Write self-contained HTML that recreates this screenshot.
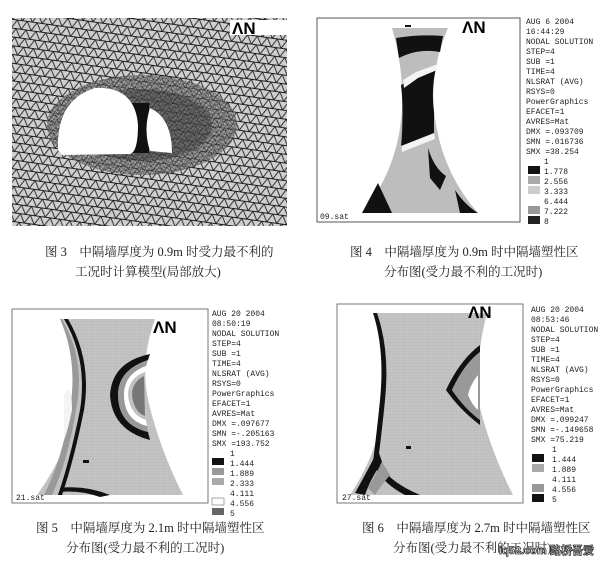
<!DOCTYPE html>
<html><head><meta charset="utf-8"><style>
html,body{margin:0;padding:0;background:#fff;}
svg{display:block;}
.cap{font-family:"Liberation Serif","Noto Serif CJK SC",serif;font-size:12.5px;fill:#222;}
.lg{font-family:"Liberation Mono",monospace;font-size:8px;fill:#222;}
.an{font-family:"Liberation Sans",sans-serif;font-weight:bold;font-size:17px;fill:#000;}
</style></head><body>
<svg width="600" height="562" viewBox="0 0 600 562" xmlns="http://www.w3.org/2000/svg">
<defs>
<pattern id="mesh" width="10" height="8.7" patternUnits="userSpaceOnUse" patternTransform="rotate(8)">
<rect width="10" height="8.7" fill="#cfcfcf"/>
<path d="M0 0H10M0 8.7H10M0 0L5 8.7L10 0M-5 8.7L0 0M5 8.7L10 0" stroke="#1c1c1c" stroke-width="0.9" fill="none"/>
</pattern>
<pattern id="mesh2" width="5" height="4.4" patternUnits="userSpaceOnUse" patternTransform="rotate(-10)">
<rect width="5" height="4.4" fill="#8a8a8a"/>
<path d="M0 0H5M0 4.4H5M0 0L2.5 4.4L5 0" stroke="#111" stroke-width="0.6" fill="none"/>
</pattern>
<pattern id="grid" width="3" height="3" patternUnits="userSpaceOnUse">
<rect width="3" height="3" fill="#c4c4c4"/><path d="M0 0H3M0 0V3" stroke="#b0b0b0" stroke-width="0.5"/>
</pattern>
</defs>

<!-- Fig 3 -->
<rect x="12" y="18" width="275" height="208" fill="url(#mesh)"/>
<ellipse cx="142" cy="125" rx="95" ry="50" fill="url(#mesh2)" opacity="0.7"/>
<ellipse cx="142" cy="125" rx="70" ry="36" fill="#333" opacity="0.45"/>
<rect x="131" y="103" width="18" height="50" fill="#111"/>
<path d="M58 150 Q56 100 95 88 Q135 86 138 125 Q138 152 130 154 L62 155 Z" fill="#fff"/>
<path d="M150 108 Q172 118 172 153 L150 151 Q143 130 150 108 Z" fill="#fff"/>
<rect x="230" y="20" width="57" height="15" fill="#fff"/>
<text x="232" y="34" class="an">ΛN</text>
<text x="45" y="256" class="cap">图 3　中隔墙厚度为 0.9m 时受力最不利的</text>
<text x="75" y="276" class="cap">工况时计算模型(局部放大)</text>

<!-- Fig 4 -->
<rect x="317" y="18" width="203" height="204" fill="#fff" stroke="#555" stroke-width="1"/>
<path d="M392 28 L448 28 Q430 70 434 110 Q440 170 478 213 L362 213 Q398 170 402 110 Q404 70 392 28 Z" fill="#bdbdbd"/>
<path d="M396 38 Q420 34 443 36 L440 52 Q418 48 399 58 Z" fill="#111"/>
<path d="M401 85 L412 80 L424 72 L436 68 Q431 90 434 112 L434 135 L401 148 Q404 110 401 85 Z" fill="#111"/>
<path d="M403 80 L416 72 L438 64 L437 70 L418 78 L404 88 Z" fill="#f4f4f4"/>
<path d="M401 146 L434 133 L435 139 L402 152 Z" fill="#f4f4f4"/>
<path d="M428 148 Q434 168 446 176 L440 190 L430 178 Z" fill="#111"/>
<path d="M362 213 L378 183 L392 213 Z" fill="#111"/>
<path d="M455 190 Q465 205 478 213 L460 213 Z" fill="#111"/>
<rect x="405" y="25" width="6" height="2" fill="#111"/>
<text x="462" y="33" class="an">ΛN</text>
<text x="320" y="219" class="lg">09.sat</text>
<g class="lg">
<text x="526" y="24">AUG  6 2004</text><text x="526" y="34">16:44:29</text><text x="526" y="44">NODAL SOLUTION</text>
<text x="526" y="54">STEP=4</text><text x="526" y="64">SUB =1</text><text x="526" y="74">TIME=4</text>
<text x="526" y="84">NLSRAT    (AVG)</text><text x="526" y="94">RSYS=0</text><text x="526" y="104">PowerGraphics</text>
<text x="526" y="114">EFACET=1</text><text x="526" y="124">AVRES=Mat</text><text x="526" y="134">DMX =.093709</text>
<text x="526" y="144">SMN =.016736</text><text x="526" y="154">SMX =38.254</text>
<text x="544" y="164">1</text><text x="544" y="174">1.778</text><text x="544" y="184">2.556</text>
<text x="544" y="194">3.333</text><text x="544" y="204">6.444</text><text x="544" y="214">7.222</text><text x="544" y="224">8</text>
</g>
<rect x="528" y="166" width="12" height="8" fill="#111"/><rect x="528" y="176" width="12" height="8" fill="#aaa"/>
<rect x="528" y="186" width="12" height="8" fill="#ccc"/><rect x="528" y="206" width="12" height="8" fill="#999"/>
<rect x="528" y="216" width="12" height="8" fill="#222"/>
<text x="350" y="256" class="cap">图 4　中隔墙厚度为 0.9m 时中隔墙塑性区</text>
<text x="384" y="276" class="cap">分布图(受力最不利的工况时)</text>

<!-- Fig 5 -->
<rect x="12" y="309" width="196" height="194" fill="#fff" stroke="#777" stroke-width="1"/>
<path d="M62 319 L155 319 Q140 360 148 400 Q160 450 183 495 L37 495 Q70 450 76 400 Q82 350 62 319 Z" fill="url(#grid)"/>
<path d="M62 319 Q86 360 76 410 Q68 460 52 495 L44 495 Q62 460 70 410 Q78 360 60 319 Z" fill="#999"/>
<path d="M68 319 Q92 360 84 410 Q74 460 62 495 L58 495 Q70 460 80 410 Q88 360 64 319 Z" fill="#111"/>
<path d="M64 395 Q72 380 72 410 Q68 430 64 440 Z" fill="#f4f4f4"/>
<path d="M148 360 Q118 370 118 395 Q120 425 148 432 L150 440 Q112 430 110 395 Q112 362 150 354 Z" fill="#111"/>
<path d="M146 366 Q124 374 124 395 Q126 420 147 426 L148 432 Q118 425 118 395 Q118 370 148 360 Z" fill="#999"/>
<path d="M145 372 Q128 378 128 395 Q130 415 146 420 L147 426 Q124 420 124 395 Q124 374 146 366 Z" fill="#fff"/>
<path d="M144 376 Q132 382 132 395 Q134 412 145 416 Z" fill="#777"/>
<path d="M60 488 Q85 485 110 495 L100 497 Q80 490 60 492 Z" fill="#111"/>
<rect x="83" y="460" width="6" height="3" fill="#111"/>
<text x="153" y="333" class="an">ΛN</text>
<text x="16" y="500" class="lg">21.sat</text>
<g class="lg" fill="#444">
<text x="212" y="316">AUG 20 2004</text><text x="212" y="326">08:50:19</text><text x="212" y="336">NODAL SOLUTION</text>
<text x="212" y="346">STEP=4</text><text x="212" y="356">SUB =1</text><text x="212" y="366">TIME=4</text>
<text x="212" y="376">NLSRAT    (AVG)</text><text x="212" y="386">RSYS=0</text><text x="212" y="396">PowerGraphics</text>
<text x="212" y="406">EFACET=1</text><text x="212" y="416">AVRES=Mat</text><text x="212" y="426">DMX =.097677</text>
<text x="212" y="436">SMN =-.205163</text><text x="212" y="446">SMX =193.752</text>
<text x="230" y="456">1</text><text x="230" y="466">1.444</text><text x="230" y="476">1.889</text>
<text x="230" y="486">2.333</text><text x="230" y="496">4.111</text><text x="230" y="506">4.556</text><text x="230" y="516">5</text>
</g>
<rect x="212" y="458" width="12" height="7" fill="#111"/><rect x="212" y="468" width="12" height="7" fill="#999"/>
<rect x="212" y="478" width="12" height="7" fill="#aaa"/><rect x="212" y="498" width="12" height="7" fill="#fff" stroke="#555" stroke-width="0.5"/>
<rect x="212" y="508" width="12" height="7" fill="#666"/>
<text x="36" y="532" class="cap">图 5　中隔墙厚度为 2.1m 时中隔墙塑性区</text>
<text x="66" y="552" class="cap">分布图(受力最不利的工况时)</text>

<!-- Fig 6 -->
<rect x="337" y="304" width="186" height="199" fill="#fff" stroke="#777" stroke-width="1"/>
<path d="M377 313 L487 313 Q475 360 478 400 Q490 450 513 495 L350 495 Q380 450 384 400 Q390 350 377 313 Z" fill="url(#grid)"/>
<path d="M377 313 Q390 350 385 400 Q381 440 378 460 Q385 480 420 495 L405 495 Q380 482 373 462 Q377 430 380 400 Q385 350 373 313 Z" fill="#111"/>
<path d="M355 493 Q368 470 378 450 L382 462 Q370 480 365 495 Z" fill="#111"/>
<path d="M368 488 Q378 470 382 462 L390 475 Q380 487 375 495 Z" fill="#999"/>
<path d="M480 345 Q460 360 446 390 Q460 410 480 425 L480 420 Q464 408 452 390 Q464 364 480 352 Z" fill="#111"/>
<path d="M480 352 Q464 364 452 390 Q464 408 480 420 Z" fill="#999"/>
<path d="M478 375 Q470 385 468 395 Q472 405 478 410 Z" fill="#fff"/>
<rect x="406" y="446" width="5" height="3" fill="#111"/>
<text x="468" y="318" class="an">ΛN</text>
<text x="342" y="500" class="lg">27.sat</text>
<g class="lg" fill="#444">
<text x="531" y="312">AUG 20 2004</text><text x="531" y="322">08:53:46</text><text x="531" y="332">NODAL SOLUTION</text>
<text x="531" y="342">STEP=4</text><text x="531" y="352">SUB =1</text><text x="531" y="362">TIME=4</text>
<text x="531" y="372">NLSRAT   (AVG)</text><text x="531" y="382">RSYS=0</text><text x="531" y="392">PowerGraphics</text>
<text x="531" y="402">EFACET=1</text><text x="531" y="412">AVRES=Mat</text><text x="531" y="422">DMX =.099247</text>
<text x="531" y="432">SMN =-.149658</text><text x="531" y="442">SMX =75.219</text>
<text x="552" y="452">1</text><text x="552" y="462">1.444</text><text x="552" y="472">1.889</text>
<text x="552" y="482">4.111</text><text x="552" y="492">4.556</text><text x="552" y="502">5</text>
</g>
<rect x="532" y="454" width="12" height="8" fill="#111"/><rect x="532" y="464" width="12" height="8" fill="#aaa"/>
<rect x="532" y="484" width="12" height="8" fill="#999"/><rect x="532" y="494" width="12" height="8" fill="#111"/>
<text x="362" y="532" class="cap">图 6　中隔墙厚度为 2.7m 时中隔墙塑性区</text>
<text x="393" y="552" class="cap">分布图(受力最不利的工况时)</text>
<text x="499" y="554" font-family="Liberation Sans,sans-serif" font-size="11" font-weight="bold" fill="#fff" stroke="#333" stroke-width="0.8">iq52.com</text>
<text x="550" y="554" font-family="Liberation Sans,'Noto Sans CJK SC',sans-serif" font-size="11" font-weight="bold" fill="#fff" stroke="#333" stroke-width="0.8">路桥吾爱</text>
</svg>
</body></html>
